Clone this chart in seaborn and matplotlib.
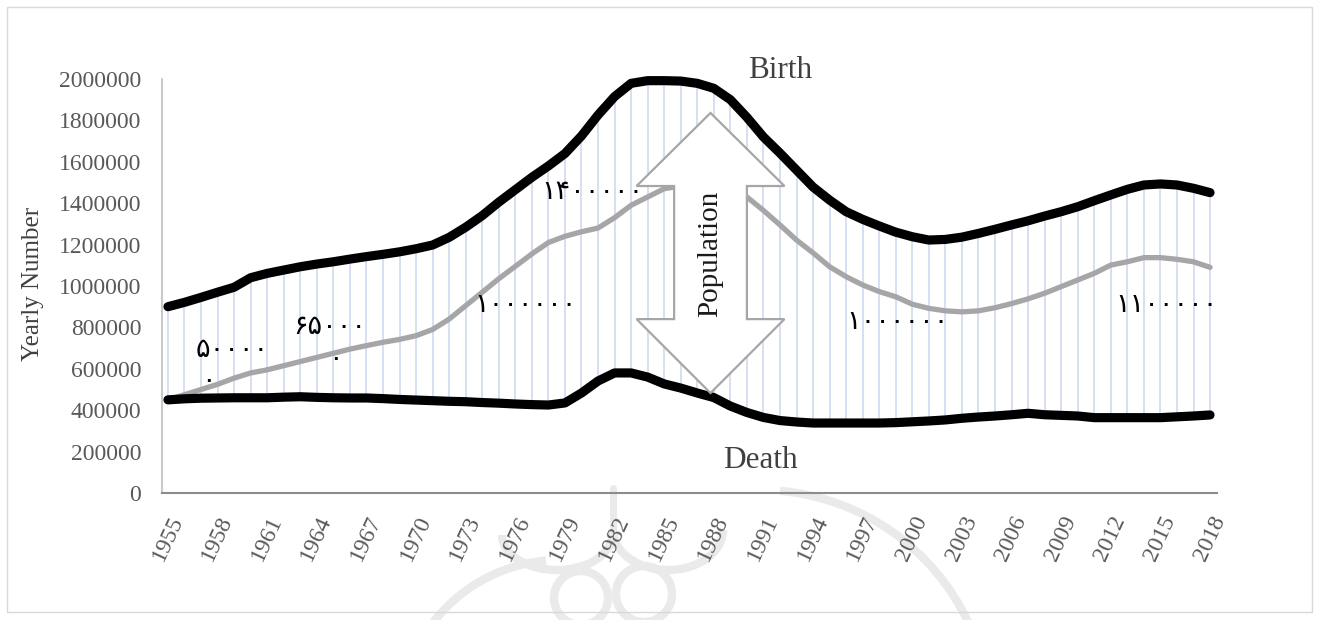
import matplotlib
matplotlib.use("Agg")
import matplotlib.pyplot as plt
import matplotlib.patches as mpatches
import seaborn as sns
import pandas as pd

years = list(range(1955, 2019))
birth = [900000, 921000, 945000, 970000, 994000, 1040000, 1061000, 1077000,
         1093000, 1106000, 1117000, 1130000, 1142000, 1153000, 1165000, 1180000,
         1198000, 1235000, 1284000, 1340000, 1405000, 1465000, 1525000, 1580000,
         1640000, 1725000, 1826000, 1915000, 1979000, 1992000, 1992000, 1990000,
         1979000, 1955000, 1900000, 1815000, 1720000, 1642000, 1560000, 1478000,
         1415000, 1359000, 1322000, 1290000, 1260000, 1238000, 1222000, 1225000,
         1236000, 1254000, 1274000, 1295000, 1315000, 1338000, 1359000, 1383000,
         1412000, 1440000, 1467000, 1488000, 1493000, 1488000, 1472000, 1451000]
death = [450000, 455000, 458000, 459000, 460000, 460000, 460000, 463000,
         465000, 462000, 460000, 459000, 459000, 456000, 452000, 449000,
         446000, 443000, 441000, 437000, 434000, 430000, 427000, 425000,
         435000, 483000, 541000, 580000, 580000, 560000, 527000, 507000,
         483000, 461000, 420000, 389000, 365000, 350000, 343000, 338000,
         338000, 338000, 338000, 338000, 340000, 344000, 348000, 353000,
         361000, 367000, 372000, 378000, 385000, 378000, 375000, 372000,
         364000, 364000, 364000, 364000, 364000, 368000, 372000, 377000]
growth = [450000, 475000, 500000, 525000, 555000, 580000, 595000, 615000,
          635000, 655000, 675000, 695000, 712000, 728000, 742000, 760000,
          790000, 840000, 905000, 970000, 1035000, 1095000, 1155000, 1210000,
          1240000, 1262000, 1280000, 1330000, 1390000, 1430000, 1470000, 1483000,
          1496000, 1494000, 1474000, 1430000, 1365000, 1295000, 1222000, 1160000,
          1093000, 1045000, 1005000, 973000, 948000, 912000, 892000, 880000,
          875000, 880000, 895000, 915000, 938000, 965000, 997000, 1029000,
          1061000, 1101000, 1117000, 1137000, 1137000, 1129000, 1117000, 1090000]
tick_years = list(range(1955, 2019, 3))
y_ticks = list(range(0, 2000001, 200000))

# Persian annotations (label, x-year, y-value)
notes = [("۵۰۰۰۰", 1956.7, 691000), ("۰", 1957.0, 540000),
         ("۶۵۰۰۰", 1962.6, 802000), ("۰", 1964.7, 645000),
         ("۱۰۰۰۰۰۰", 1973.5, 908000),
         ("۱۴۰۰۰۰۰", 1977.6, 1454000),
         ("۱۰۰۰۰۰۰", 1996.0, 826000),
         ("۱۱۰۰۰۰۰", 2012.3, 908000)]

df = pd.DataFrame({"year": years, "birth": birth, "death": death, "growth": growth})

sns.set_theme(style="white")
plt.rcParams["font.family"] = ["Liberation Serif", "DejaVu Sans"]

fig = plt.figure(figsize=(13.2, 6.2), dpi=100)

# faint background watermark (page logo), drawn in pixel space behind the chart
wm = fig.add_axes([0, 0, 1, 1], zorder=-1)
wm.set_xlim(0, 1320)
wm.set_ylim(620, 0)
wm.axis("off")
wm_col = "#EAEAEA"
for (xc, yc, w, h, t1, t2) in [(557, 535, 110, 70, 0, 180), (668, 530, 110, 80, 0, 180),
                               (581, 598, 54, 54, 0, 360), (644, 594, 56, 56, 0, 360),
                               (560, 720, 320, 320, 200, 265),
                               (760, 720, 460, 460, 275, 335)]:
    wm.add_patch(mpatches.Arc((xc, yc), w, h, theta1=t1, theta2=t2, color=wm_col, lw=6))
wm.plot([613, 613], [488, 545], color=wm_col, lw=5, solid_capstyle="round")

ax = fig.add_axes([162 / 1320, 1 - 493 / 620, (1217 - 162) / 1320, (493 - 79) / 620])
ax.patch.set_alpha(0)

# high-low connector lines
ax.vlines(df["year"], df["death"], df["birth"], colors="#D6E0F2", linewidth=1.4, zorder=1)

sns.lineplot(data=df, x="year", y="growth", ax=ax, color="#A6A6A6", linewidth=3.8,
             zorder=2, clip_on=False)
sns.lineplot(data=df, x="year", y="birth", ax=ax, color="black", linewidth=6.6,
             zorder=3, clip_on=False, solid_capstyle="round", solid_joinstyle="round")
sns.lineplot(data=df, x="year", y="death", ax=ax, color="black", linewidth=6.6,
             zorder=3, clip_on=False, solid_capstyle="round", solid_joinstyle="round")

ax.set_xlim(1954.64, 2018.42)
ax.set_ylim(0, 2000000)
ax.set_yticks(y_ticks)
ax.set_yticklabels([str(v) for v in y_ticks])
ax.set_xticks(tick_years)
ax.set_xticklabels([str(v) for v in tick_years], rotation=65, ha="right",
                   rotation_mode="anchor")
ax.tick_params(axis="both", length=0, labelsize=17, labelcolor="#595959")
ax.tick_params(axis="y", pad=15)
ax.tick_params(axis="x", pad=14)

ax.set_xlabel("")
ax.set_ylabel("Yearly Number", fontsize=18, color="#404040")
ax.yaxis.set_label_coords(-0.112, 0.505)

for s in ["top", "right"]:
    ax.spines[s].set_visible(False)
ax.spines["left"].set_color("#BFBFBF")
ax.spines["left"].set_linewidth(1.2)
ax.spines["bottom"].set_color("#8C8C8C")
ax.spines["bottom"].set_linewidth(1.5)

# double headed block arrow
cx, hh, hs = 1987.8, 4.47, 2.2
yt, yb1, yb2, yb = 1836000, 1483000, 840000, 483000
pts = [(cx, yt), (cx + hh, yb1), (cx + hs, yb1), (cx + hs, yb2), (cx + hh, yb2),
       (cx, yb), (cx - hh, yb2), (cx - hs, yb2), (cx - hs, yb1), (cx - hh, yb1)]
ax.add_patch(mpatches.Polygon(pts, closed=True, facecolor="white", edgecolor="#A6A6A6",
                              linewidth=1.6, zorder=4))
ax.text(cx, 1155000, "Population", rotation=90, ha="center", va="center",
        fontsize=21, color="#1a1a1a", zorder=5)

ax.text(1992.0, 2043000, "Birth", ha="center", va="center", fontsize=22.5,
        color="#404040", clip_on=False)
ax.text(1990.8, 159000, "Death", ha="center", va="center", fontsize=22.5,
        color="#404040")

for lab, xv, yv in notes:
    ax.text(xv, yv, lab, ha="left", va="center", fontsize=19.5, color="black",
            family=["DejaVu Sans"], zorder=5)

fig.patches.append(mpatches.Rectangle((7 / 1320, 8 / 620), 1305 / 1320, 605 / 620,
                                      transform=fig.transFigure, fill=False,
                                      edgecolor="#D9D9D9", linewidth=1))

fig.savefig("out.png", dpi=100)
